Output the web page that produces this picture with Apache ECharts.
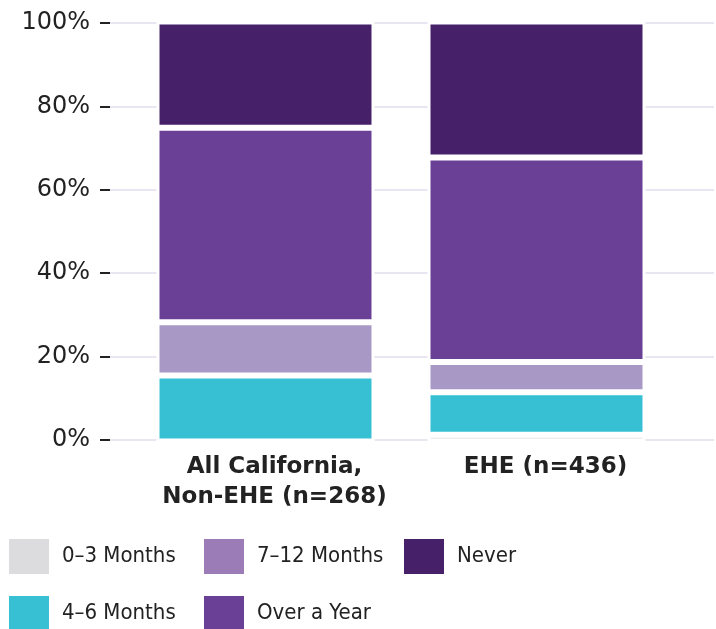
<!DOCTYPE html>
<html>
<head>
<meta charset="utf-8">
<script src="https://cdn.jsdelivr.net/npm/echarts@6/dist/echarts.min.js"></script>
<style>
  html, body { margin: 0; padding: 0; background: #fff; }
  #mainChart { width: 716px; height: 629px; }
</style>
</head>
<body>
<div id="mainChart"></div>
<script>
// 数据
var categories = ['All California,\nNon-EHE (n=268)', 'EHE (n=436)'];
var seriesNames = ['0–3 Months', '4–6 Months', '7–12 Months', 'Over a Year', 'Never'];
var months0to3 = [0, 1.6];
var months4to6 = [15.7, 10.1];
var months7to12 = [12.7, 7.2];
var overAYear = [46.3, 48.7];
var never = [25.3, 32.4];
var yTicks = [0, 20, 40, 60, 80, 100];

var colors = ['#dcdcde', '#37c0d4', '#a898c5', '#6a3f96', '#47206a'];
var legendColors = ['#dcdcde', '#37c0d4', '#9c7cb7', '#6a3f96', '#47206a'];
var values = [months0to3, months4to6, months7to12, overAYear, never];

var chartDom = document.getElementById('mainChart');
var myChart = echarts.init(chartDom);

// 图例位置 (列优先)
var legendPos = [
    { left: 9, top: 539 },
    { left: 9, top: 596 },
    { left: 204, top: 539 },
    { left: 204, top: 596 },
    { left: 404, top: 539 }
];

var legends = seriesNames.map(function (name, i) {
    return {
        left: legendPos[i].left,
        top: legendPos[i].top,
        padding: 0,
        itemWidth: 40,
        itemHeight: 35,
        selectedMode: false,
        icon: 'rect',
        data: [{ name: name, itemStyle: { color: legendColors[i], borderWidth: 0 } }],
        textStyle: {
            fontFamily: '"DejaVu Sans Condensed", "Liberation Sans"',
            fontSize: 22,
            color: '#222',
            padding: [0, 0, 0, 8]
        }
    };
});

var option = {
    animation: false,
    grid: [
        { left: 110, right: 2, top: 23, bottom: 189 },
        // 柱子用的网格, 上下各多1.5px (白色描边)
        { left: 130, width: 542, top: 21.5, bottom: 187.5 }
    ],
    legend: legends,
    xAxis: [
        { gridIndex: 0, type: 'category', data: ['a'], show: false },
        {
            gridIndex: 1,
            type: 'category',
            data: categories,
            axisLine: { show: false },
            axisTick: { show: false },
            axisLabel: {
                interval: 0,
                fontFamily: '"DejaVu Sans"',
                fontSize: 23,
                fontWeight: 'bold',
                color: '#222',
                lineHeight: 30,
                margin: 11,
                padding: [0, 0, 0, 18]
            }
        }
    ],
    yAxis: [
        {
            gridIndex: 0,
            type: 'value',
            min: yTicks[0],
            max: yTicks[yTicks.length - 1],
            interval: 20,
            axisLine: { show: false },
            axisTick: { show: true, length: 10, lineStyle: { color: '#222', width: 2 } },
            axisLabel: {
                formatter: '{value}%',
                fontFamily: '"DejaVu Sans"',
                fontSize: 24,
                color: '#222',
                margin: 20
            },
            splitLine: { lineStyle: { color: '#e9e5f1', width: 2 } }
        },
        { gridIndex: 1, type: 'value', min: 0, max: 100, show: false }
    ],
    series: seriesNames.map(function (name, i) {
        return {
            name: name,
            type: 'bar',
            stack: 'total',
            xAxisIndex: 1,
            yAxisIndex: 1,
            barWidth: 218,
            data: values[i],
            itemStyle: { color: colors[i], borderColor: '#fff', borderWidth: 3 }
        };
    })
};

myChart.setOption(option);
</script>
</body>
</html>
